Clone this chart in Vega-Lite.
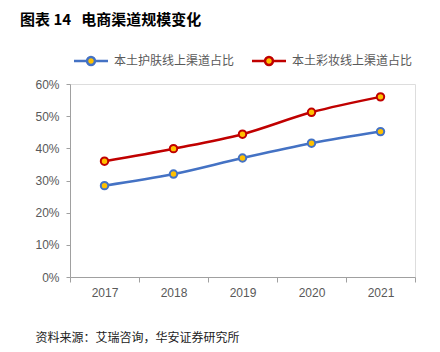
{
  "$schema": "https://vega.github.io/schema/vega-lite/v6.json",
  "autosize": "none",
  "width": 345,
  "height": 193,
  "padding": {"left": 70, "top": 84, "right": 25, "bottom": 75},
  "background": "white",
  "title": {
    "text": "图表 14\u00a0\u00a0\u00a0电商渠道规模变化",
    "anchor": "start",
    "frame": "group",
    "dx": -50,
    "offset": 20,
    "font": "Noto Sans CJK SC",
    "fontSize": 15,
    "fontWeight": "bold",
    "color": "#000000"
  },
  "data": {
    "values": [
      {"year": "2017", "series": "本土护肤线上渠道占比", "value": 0.284},
      {"year": "2018", "series": "本土护肤线上渠道占比", "value": 0.320},
      {"year": "2019", "series": "本土护肤线上渠道占比", "value": 0.370},
      {"year": "2020", "series": "本土护肤线上渠道占比", "value": 0.416},
      {"year": "2021", "series": "本土护肤线上渠道占比", "value": 0.452},
      {"year": "2017", "series": "本土彩妆线上渠道占比", "value": 0.360},
      {"year": "2018", "series": "本土彩妆线上渠道占比", "value": 0.399},
      {"year": "2019", "series": "本土彩妆线上渠道占比", "value": 0.444},
      {"year": "2020", "series": "本土彩妆线上渠道占比", "value": 0.512},
      {"year": "2021", "series": "本土彩妆线上渠道占比", "value": 0.560}
    ]
  },
  "encoding": {
    "x": {
      "field": "year",
      "type": "ordinal",
      "scale": {"paddingInner": 0, "paddingOuter": 0},
      "axis": {
        "title": "资料来源：艾瑞咨询，华安证券研究所",
        "titleAnchor": "start",
        "titleAlign": "left",
        "titleX": -35,
        "titleY": 60,
        "titleBaseline": "middle",
        "titleFont": "Noto Sans CJK SC",
        "titleFontSize": 12,
        "titleFontWeight": "normal",
        "titleColor": "#222222",
        "labelAngle": 0,
        "tickBand": "extent",
        "labelFont": "Liberation Sans",
        "labelFontSize": 12,
        "labelColor": "#595959",
        "labelPadding": 5,
        "tickSize": 5,
        "domainColor": "#a0a0a0",
        "tickColor": "#a0a0a0",
        "grid": false
      }
    },
    "y": {
      "field": "value",
      "type": "quantitative",
      "scale": {"domain": [0, 0.6]},
      "axis": {
        "title": null,
        "format": ".0%",
        "values": [0, 0.1, 0.2, 0.3, 0.4, 0.5, 0.6],
        "labelFont": "Liberation Sans",
        "labelFontSize": 12,
        "labelColor": "#595959",
        "labelPadding": 7,
        "tickSize": 4,
        "domainColor": "#a0a0a0",
        "tickColor": "#a0a0a0",
        "grid": false
      }
    }
  },
  "layer": [
    {
      "mark": {"type": "line", "strokeWidth": 2.5, "interpolate": "monotone"},
      "encoding": {
        "color": {
          "field": "series",
          "type": "nominal",
          "sort": ["本土护肤线上渠道占比", "本土彩妆线上渠道占比"],
          "scale": {"domain": ["本土护肤线上渠道占比", "本土彩妆线上渠道占比"], "range": ["#4472C4", "#C00000"]},
          "legend": {
            "title": null,
            "orient": "none",
            "legendX": 8,
            "legendY": -36,
            "direction": "horizontal",
            "padding": 0,
            "symbolType": "M-1.5,0H-0.35M0.35,0H1.5M-0.35,0A0.35,0.35 0 1,1 0.35,0A0.35,0.35 0 1,1 -0.35,0Z",
            "symbolSize": 514,
            "symbolStrokeWidth": 2.5,
            "symbolFillColor": "#FFC000",
            "labelOffset": 10,
            "columnPadding": 11,
            "labelFont": "Noto Sans CJK SC",
            "labelFontSize": 12,
            "labelColor": "#595959",
            "encode": {"symbols": {"update": {"fill": {"value": "#FFC000"}, "strokeWidth": {"value": 2.5}}}}
          }
        }
      }
    },
    {
      "mark": {"type": "point", "filled": true, "fill": "#FFC000", "size": 55, "strokeWidth": 2, "opacity": 1},
      "encoding": {
        "stroke": {
          "field": "series",
          "type": "nominal",
          "scale": {"domain": ["本土护肤线上渠道占比", "本土彩妆线上渠道占比"], "range": ["#4472C4", "#C00000"]},
          "legend": null
        }
      }
    }
  ]
}
